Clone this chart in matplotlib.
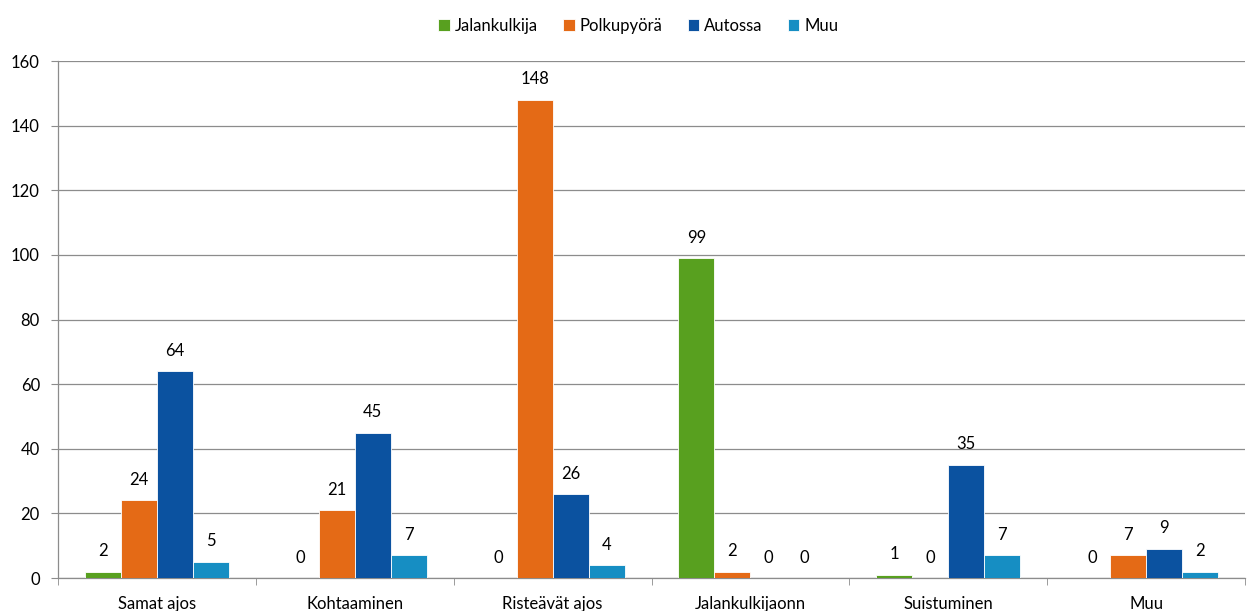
import numpy as np
import matplotlib.pyplot as plt

plt.rcParams['font.family'] = ['Lato', 'DejaVu Sans']

categories = ['Samat ajos', 'Kohtaaminen', 'Risteävät ajos', 'Jalankulkijaonn', 'Suistuminen', 'Muu']
series_names = ['Jalankulkija', 'Polkupyörä', 'Autossa', 'Muu']
jalankulkija = [2, 0, 0, 99, 1, 0]
polkupyora = [24, 21, 148, 2, 0, 7]
autossa = [64, 45, 26, 0, 35, 9]
muu = [5, 7, 4, 0, 7, 2]
colors = ['#58A01F', '#E46A16', '#0B52A0', '#168EC3']

fig = plt.figure(figsize=(12.47, 6.11), dpi=100)
ax = fig.add_axes([0.0465, 0.054, 0.952, 0.846])

x = np.arange(len(categories))
w = 0.182
allvals = [jalankulkija, polkupyora, autossa, muu]
for i, (name, vals, c) in enumerate(zip(series_names, allvals, colors)):
    pos = x + (i - 1.5) * w
    bars = ax.bar(pos, vals, w, color=c, edgecolor='white', linewidth=0.6, label=name, zorder=3)
    for p, v in zip(pos, vals):
        ax.annotate(str(v), (p, v), xytext=(0, 9), textcoords='offset points',
                    ha='center', va='bottom', fontsize=12, color='black')

ax.set_xlim(-0.5, len(categories) - 0.5)
ax.set_ylim(0, 160)
ax.set_yticks(range(0, 161, 20))
ax.yaxis.grid(True, color='#8c8c8c', linewidth=0.9, zorder=0)
ax.set_xticks(x)
ax.set_xticklabels(categories, fontsize=12)
ax.set_xticks(np.arange(-0.5, len(categories), 1), minor=True)
ax.tick_params(axis='x', which='major', length=0, pad=13)
ax.tick_params(axis='x', which='minor', length=5, color='#8c8c8c')
ax.tick_params(axis='y', length=5, color='#8c8c8c', labelsize=12, pad=8)
for s in ['top', 'right']:
    ax.spines[s].set_visible(False)
for s in ['left', 'bottom']:
    ax.spines[s].set_color('#8c8c8c')
    ax.spines[s].set_linewidth(0.9)

fig.legend(loc='upper center', bbox_to_anchor=(0.512, 0.995), ncol=4, frameon=False,
           fontsize=12, handlelength=0.7, handleheight=0.7, handletextpad=0.3, columnspacing=1.5)

fig.savefig('out.png', dpi=100)
